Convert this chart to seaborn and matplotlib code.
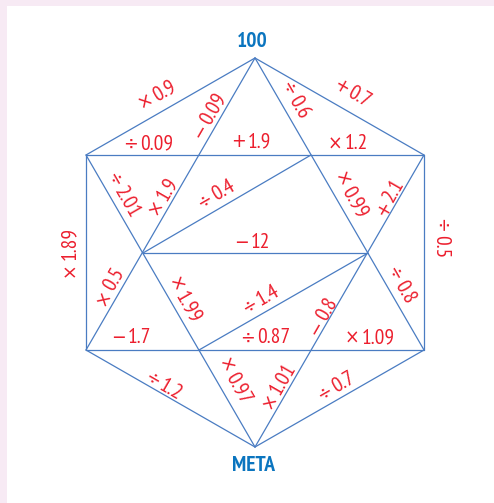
import matplotlib
matplotlib.use("Agg")
import matplotlib.pyplot as plt
import seaborn as sns
import pandas as pd
import numpy as np

# ==========================================================
# DATA - nodes of the hexagon diagram (pixel space) and edges
# ==========================================================

node_names = ["T", "UL", "UR", "LL", "LR", "B", "ML", "MR", "TML", "TMR", "BML", "BMR"]
node_x = [255, 86, 424, 86, 424, 255, 143, 368, 199, 311, 199, 311]
node_y = [58, 155, 155, 350, 350, 447, 253, 253, 155, 155, 350, 350]

edge_from = ["T", "T", "LL", "LR", "UL", "UR", "UL", "ML", "LL", "T", "T", "UL", "UR", "ML", "BML"]
edge_to   = ["UL", "UR", "B", "B", "LL", "LR", "UR", "MR", "LR", "LL", "LR", "B", "B", "TMR", "MR"]

# operations written along the segments (operator, number)
op_sign = ["×", "−", "÷", "+",
           "÷", "+", "×",
           "÷", "×", "÷", "×", "+",
           "×", "÷", "−",
           "×", "×", "÷", "−", "÷",
           "−", "÷", "×",
           "÷", "×", "×", "÷"]
op_num = ["0.9", "0.09", "0.6", "0.7",
          "0.09", "1.9", "1.2",
          "2.01", "1.9", "0.4", "0.99", "2.1",
          "1.89", "0.5", "12",
          "0.5", "1.99", "1.4", "0.8", "0.8",
          "1.7", "0.87", "1.09",
          "1.2", "0.97", "1.01", "0.7"]
op_x = [157, 209, 294, 352,
        148, 251, 348,
        123, 163, 216, 350, 390,
        70, 441, 252,
        110, 184, 261, 323, 400,
        131, 265, 370,
        163, 234, 279, 336]
op_y = [95, 116, 100, 93,
        144, 142, 144,
        195, 196, 195, 195, 198,
        252, 238, 243,
        287, 300, 300, 317, 285,
        338, 338, 338,
        386, 381, 386, 387]
op_angle = [30, 60, -60, -30,
            0, 0, 0,
            -60, 60, 30, -60, 60,
            90, -90, 0,
            60, -60, 30, 60, -60,
            0, 0, 0,
            -30, -60, 60, 30]

start_label = "100"
end_label = "META"

# ==========================================================
# BUILD EDGE TABLE
# ==========================================================

pos = {n: (x, y) for n, x, y in zip(node_names, node_x, node_y)}

rows = []
for i, (a, b) in enumerate(zip(edge_from, edge_to)):
    rows.append({"edge": i, "x": pos[a][0], "y": pos[a][1]})
    rows.append({"edge": i, "x": pos[b][0], "y": pos[b][1]})
edges = pd.DataFrame(rows)

# ==========================================================
# PLOT
# ==========================================================

sns.set_style("white")
plt.rcParams["font.family"] = ["PT Sans Narrow", "DejaVu Sans"]

fig = plt.figure(figsize=(4.94, 5.03), dpi=100)
fig.patch.set_facecolor("#f7eaf4")
ax = fig.add_axes([7 / 494, 0, 487 / 494, 497 / 503])
ax.set_facecolor("white")

sns.lineplot(
    data=edges,
    x="x",
    y="y",
    units="edge",
    estimator=None,
    sort=False,
    color="#4a7cc2",
    linewidth=0.9,
    ax=ax
)

ax.set_xlim(7, 494)
ax.set_ylim(503, 6)

red = "#ec1f2e"
num_style = dict(color=red, fontsize=15.5)
sign_style = dict(color=red, fontsize=14, family="DejaVu Sans", fontstretch="condensed")

renderer = fig.canvas.get_renderer()


def text_width(s, style):
    t = ax.text(0, 0, s, **style)
    w = t.get_window_extent(renderer).width
    t.remove()
    return w


gap = 2.5
for s, n, x, y, a in zip(op_sign, op_num, op_x, op_y, op_angle):
    sw = text_width(s, sign_style)
    nw = text_width(n, num_style)
    total = sw + gap + nw
    d = np.array([np.cos(np.radians(a)), np.sin(np.radians(a))])
    s_off = d * (-total / 2 + sw / 2)
    n_off = d * (-total / 2 + sw + gap + nw / 2)
    ax.annotate(s, (x, y), xytext=tuple(s_off), textcoords="offset pixels",
                rotation=a, ha="center", va="center", rotation_mode="anchor",
                **sign_style)
    ax.annotate(n, (x, y), xytext=tuple(n_off), textcoords="offset pixels",
                rotation=a, ha="center", va="center", rotation_mode="anchor",
                **num_style)

blue = "#0b75bf"
ax.text(pos["T"][0] - 3, 42, start_label, color=blue, fontsize=15.5,
        fontweight="bold", ha="center", va="center")
ax.text(pos["B"][0] - 2, 466, end_label, color=blue, fontsize=15.5,
        fontweight="bold", ha="center", va="center")

ax.set_xlabel("")
ax.set_ylabel("")
ax.set_xticks([])
ax.set_yticks([])
sns.despine(ax=ax, left=True, bottom=True)

plt.savefig("out.png", dpi=100, facecolor=fig.get_facecolor())
plt.close()
